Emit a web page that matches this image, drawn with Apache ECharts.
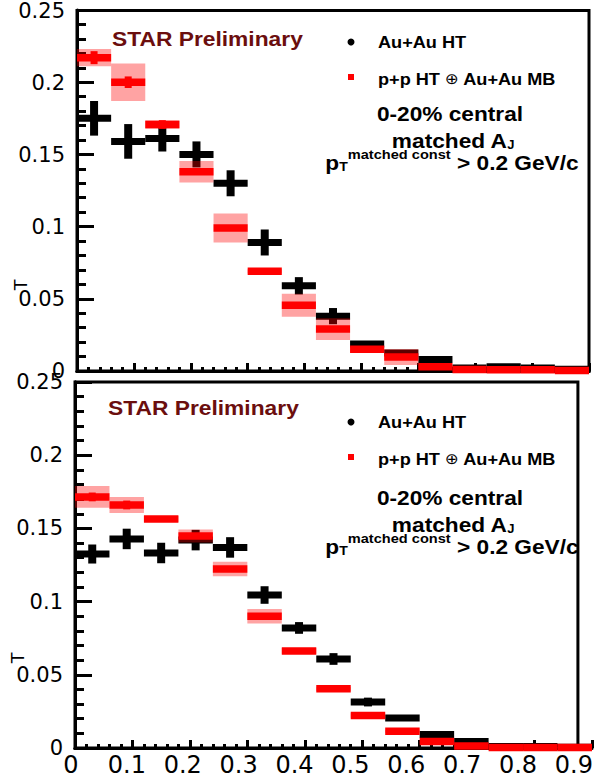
<!DOCTYPE html>
<html>
<head>
<meta charset="utf-8">
<script src="https://cdn.jsdelivr.net/npm/echarts@6/dist/echarts.min.js"></script>
<style>
  html, body { margin: 0; padding: 0; background: #fff; }
  #chart { width: 596px; height: 779px; }
</style>
</head>
<body>
<div id="chart"></div>
<script>
// Matched-jet A_J distributions, 0-20% central, two constituent selections.
// 15 bins of width 0.06 between 0 and 0.9.
const binCenters = [0.03, 0.09, 0.15, 0.21, 0.27, 0.33, 0.39, 0.45, 0.51, 0.57, 0.63, 0.69, 0.75, 0.81, 0.87];
const binWidth = 0.06;

// Upper panel: Au+Au HT (black) with statistical errors
const auauTop    = [0.175, 0.159, 0.161, 0.150, 0.130, 0.089, 0.059, 0.038, 0.0187, 0.0125, 0.008, 0.002, 0.003, 0.002, 0.0012];
const auauTopErr = [0.012, 0.012, 0.009, 0.009, 0.009, 0.009, 0.006, 0.0056, 0.002, 0.002, 0.002, 0.002, 0.001, 0.002, 0.001];
// Upper panel: p+p HT (+) Au+Au MB (red) with systematic band and statistical errors
const ppTop      = [0.217, 0.200, 0.1707, 0.138, 0.099, 0.069, 0.0455, 0.029, 0.015, 0.0097, 0.003, 0.001, 0.0008, 0.0008, 0.0003];
const ppTopSys   = [0.006, 0.013, 0.003, 0.0075, 0.010, 0.0015, 0.008, 0.0076, 0.002, 0.0055, 0.001, 0.001, 0.0005, 0.0005, 0.0003];
const ppTopStat  = [0.0045, 0.004, 0.003, 0.002, 0.002, 0.0015, 0.0015, 0.001, 0.001, 0.001, 0.0005, 0.0005, 0.0003, 0.0003, 0.0002];

// Lower panel
const auauBot    = [0.1325, 0.1428, 0.1332, 0.142, 0.137, 0.1045, 0.082, 0.0608, 0.0314, 0.0205, 0.0092, 0.0045, 0.001, 0.001, 0.0005];
const auauBotErr = [0.0065, 0.007, 0.007, 0.007, 0.007, 0.006, 0.004, 0.004, 0.003, 0.002, 0.002, 0.002, 0.001, 0.002, 0.001];
const ppBot      = [0.1715, 0.166, 0.1564, 0.1448, 0.1223, 0.090, 0.0663, 0.0404, 0.0222, 0.0114, 0.0044, 0.0014, 0.0003, 0.0003, 0.0003];
const ppBotSys   = [0.0074, 0.0055, 0.002, 0.0045, 0.005, 0.005, 0.002, 0.0015, 0.0015, 0.001, 0.0008, 0.0005, 0.0003, 0.0003, 0.0003];
const ppBotStat  = [0.003, 0.003, 0.002, 0.002, 0.002, 0.002, 0.0015, 0.001, 0.001, 0.001, 0.0005, 0.0005, 0.0002, 0.0002, 0.0002];

const xTicks = { min: 0, max: 0.9, interval: 0.1 };
const yTicks = { min: 0, max: 0.25, interval: 0.05 };

const BLACK = '#000000';
const RED = '#ff0000';
const PINK = 'rgba(255,0,0,0.36)';
const MAROON = '#6b0e0e';

// Panel rectangles; each panel has a labelled grid and an overlaid tick grid
const panelTop = { left: 77, top: 10, width: 512, height: 361 };
const panelBot = { left: 75, top: 382, width: 517, height: 366 };

// Black points: horizontal bin-width bar plus vertical statistical error bar
function renderAuAu(params, api) {
  const c = api.value(0), v = api.value(1), e = api.value(2);
  const l = api.coord([c - binWidth / 2, v]);
  const r = api.coord([c + binWidth / 2, v]);
  const t = api.coord([c, v + e]);
  const b = api.coord([c, v - e]);
  return {
    type: 'group',
    children: [
      { type: 'rect', shape: { x: l[0], y: l[1] - 3.5, width: r[0] - l[0], height: 7 }, style: { fill: BLACK } },
      { type: 'rect', shape: { x: t[0] - 4, y: t[1], width: 8, height: b[1] - t[1] }, style: { fill: BLACK } }
    ]
  };
}

// Red points: translucent systematic box, bin-width bar, statistical error bar
function renderPP(params, api) {
  const c = api.value(0), v = api.value(1), s = api.value(2), st = api.value(3);
  const bl = api.coord([c - binWidth / 2, v + s]);
  const br = api.coord([c + binWidth / 2, v - s]);
  const l = api.coord([c - binWidth / 2, v]);
  const r = api.coord([c + binWidth / 2, v]);
  const t = api.coord([c, v + st]);
  const b = api.coord([c, v - st]);
  return {
    type: 'group',
    children: [
      { type: 'rect', shape: { x: bl[0], y: bl[1], width: br[0] - bl[0], height: br[1] - bl[1] }, style: { fill: PINK } },
      { type: 'rect', shape: { x: l[0], y: l[1] - 3.75, width: r[0] - l[0], height: 7.5 }, style: { fill: RED } },
      { type: 'rect', shape: { x: t[0] - 3.5, y: t[1], width: 7, height: Math.max(b[1] - t[1], 0) }, style: { fill: RED } }
    ]
  };
}

// Labelled axes (no ticks)
function xLabelAxis(gridIndex, showLabels) {
  return {
    type: 'value', gridIndex, position: 'bottom', min: xTicks.min, max: xTicks.max, interval: xTicks.interval,
    axisLine: { show: true, onZero: false, lineStyle: { color: BLACK, width: 3 } },
    axisTick: { show: false }, splitLine: { show: false },
    axisLabel: { show: showLabels, margin: 5, color: BLACK, fontFamily: 'DejaVu Sans', fontSize: 24, padding: [0, 8, 0, 0] }
  };
}
function yLabelAxis(gridIndex) {
  return {
    type: 'value', gridIndex, position: 'left', min: yTicks.min, max: yTicks.max, interval: yTicks.interval,
    axisLine: { show: true, onZero: false, lineStyle: { color: BLACK, width: 3 } },
    axisTick: { show: false }, splitLine: { show: false },
    axisLabel: { margin: 12, color: BLACK, fontFamily: 'DejaVu Sans', fontSize: 21 }
  };
}
// Tick axes (no labels), carrying the data
function xTickAxis(gridIndex) {
  return {
    type: 'value', gridIndex, position: 'bottom', min: xTicks.min, max: xTicks.max, interval: xTicks.interval,
    axisLine: { show: true, onZero: false, lineStyle: { color: BLACK, width: 3 } },
    axisTick: { show: true, inside: true, length: 8, lineStyle: { color: BLACK, width: 3 } },
    minorTick: { show: true, splitNumber: 5, length: 4, lineStyle: { color: BLACK, width: 3 } },
    splitLine: { show: false }, axisLabel: { show: false }
  };
}
function yTickAxis(gridIndex) {
  return {
    type: 'value', gridIndex, position: 'left', min: yTicks.min, max: yTicks.max, interval: yTicks.interval,
    axisLine: { show: true, onZero: false, lineStyle: { color: BLACK, width: 3 } },
    axisTick: { show: true, inside: true, length: 17, lineStyle: { color: BLACK, width: 3 } },
    minorTick: { show: true, splitNumber: 5, length: 9, lineStyle: { color: BLACK, width: 3 } },
    splitLine: { show: false }, axisLabel: { show: false }
  };
}

function annotations(dy0, dyLeg, dyTxt, starX) {
  const bold = 'Liberation Sans';
  return [
    { type: 'text', x: starX, y: 39 + dy0, scaleX: 1.14, z: 10,
      style: { text: 'STAR Preliminary', fill: MAROON, fontFamily: bold, fontWeight: 'bold', fontSize: 20, textAlign: 'left', textVerticalAlign: 'middle' } },
    { type: 'circle', shape: { cx: 351, cy: 42 + dyLeg, r: 3.5 }, style: { fill: BLACK }, z: 10 },
    { type: 'text', x: 378, y: 42 + dyLeg, scaleX: 1.1, z: 10,
      style: { text: 'Au+Au HT', fill: BLACK, fontFamily: bold, fontWeight: 'bold', fontSize: 16.5, textAlign: 'left', textVerticalAlign: 'middle' } },
    { type: 'rect', shape: { x: 348, y: 74 + dyLeg, width: 6, height: 6 }, style: { fill: RED }, z: 10 },
    { type: 'text', x: 378, y: 79 + dyLeg, scaleX: 1.1, z: 10,
      style: {
        text: '{b|p+p HT }{o|⊕}{b| Au+Au MB}', textAlign: 'left', textVerticalAlign: 'middle',
        rich: {
          b: { fill: BLACK, fontFamily: bold, fontWeight: 'bold', fontSize: 16.5 },
          o: { fill: BLACK, fontFamily: 'DejaVu Sans', fontWeight: 'normal', fontSize: 15 }
        }
      } },
    { type: 'text', x: 450, y: 114 + dyTxt, scaleX: 1.08, z: 10,
      style: { text: '0-20% central', fill: BLACK, fontFamily: bold, fontWeight: 'bold', fontSize: 21, textAlign: 'center', textVerticalAlign: 'middle' } },
    { type: 'text', x: 453, y: 138 + dyTxt, scaleX: 1.08, z: 10,
      style: {
        text: '{m|matched A}{s|J}', textAlign: 'center', textVerticalAlign: 'middle',
        rich: {
          m: { fill: BLACK, fontFamily: bold, fontWeight: 'bold', fontSize: 21, lineHeight: 26, verticalAlign: 'bottom' },
          s: { fill: BLACK, fontFamily: bold, fontWeight: 'bold', fontSize: 12, lineHeight: 12, verticalAlign: 'bottom' }
        }
      } },
    { type: 'text', x: 452, y: 160 + dyTxt, scaleX: 1.08, z: 10,
      style: {
        text: '{m|p}{s|T}{u|matched const}{m| > 0.2 GeV/c}', textAlign: 'center', textVerticalAlign: 'middle',
        rich: {
          m: { fill: BLACK, fontFamily: bold, fontWeight: 'bold', fontSize: 21, lineHeight: 26, verticalAlign: 'bottom' },
          s: { fill: BLACK, fontFamily: bold, fontWeight: 'bold', fontSize: 13, lineHeight: 13, verticalAlign: 'bottom' },
          u: { fill: BLACK, fontFamily: bold, fontWeight: 'bold', fontSize: 13.5, lineHeight: 13, verticalAlign: 'top' }
        }
      } }
  ];
}

// Axis-title remnant at the left edge of each panel
function yTitle(x, y) {
  return { type: 'text', x, y, rotation: Math.PI / 2, z: 10,
    style: { text: 'T', fill: BLACK, fontFamily: 'Liberation Sans', fontSize: 19, textAlign: 'center', textVerticalAlign: 'middle' } };
}

// SVG output draws every tick as its own element
const chart = echarts.init(document.getElementById('chart'), null, { renderer: 'svg' });
chart.setOption({
  animation: false,
  grid: [
    Object.assign({ show: true, borderColor: BLACK, borderWidth: 3, backgroundColor: 'transparent' }, panelTop),
    Object.assign({ show: true, borderColor: BLACK, borderWidth: 3, backgroundColor: 'transparent' }, panelBot),
    Object.assign({}, panelTop),
    Object.assign({}, panelBot)
  ],
  xAxis: [xLabelAxis(0, false), xLabelAxis(1, true), xTickAxis(2), xTickAxis(3)],
  yAxis: [yLabelAxis(0), yLabelAxis(1), yTickAxis(2), yTickAxis(3)],
  series: [
    { type: 'custom', name: 'Au+Au HT', xAxisIndex: 2, yAxisIndex: 2, renderItem: renderAuAu,
      data: binCenters.map((c, i) => [c, auauTop[i], auauTopErr[i]]) },
    { type: 'custom', name: 'p+p HT ⊕ Au+Au MB', xAxisIndex: 2, yAxisIndex: 2, renderItem: renderPP,
      data: binCenters.map((c, i) => [c, ppTop[i], ppTopSys[i], ppTopStat[i]]) },
    { type: 'custom', name: 'Au+Au HT', xAxisIndex: 3, yAxisIndex: 3, renderItem: renderAuAu,
      data: binCenters.map((c, i) => [c, auauBot[i], auauBotErr[i]]) },
    { type: 'custom', name: 'p+p HT ⊕ Au+Au MB', xAxisIndex: 3, yAxisIndex: 3, renderItem: renderPP,
      data: binCenters.map((c, i) => [c, ppBot[i], ppBotSys[i], ppBotStat[i]]) }
  ],
  graphic: [
    ...annotations(0, 0, 0, 112),
    ...annotations(369, 380, 384, 108),
    yTitle(20, 285),
    yTitle(17, 658)
  ]
});
</script>
</body>
</html>
